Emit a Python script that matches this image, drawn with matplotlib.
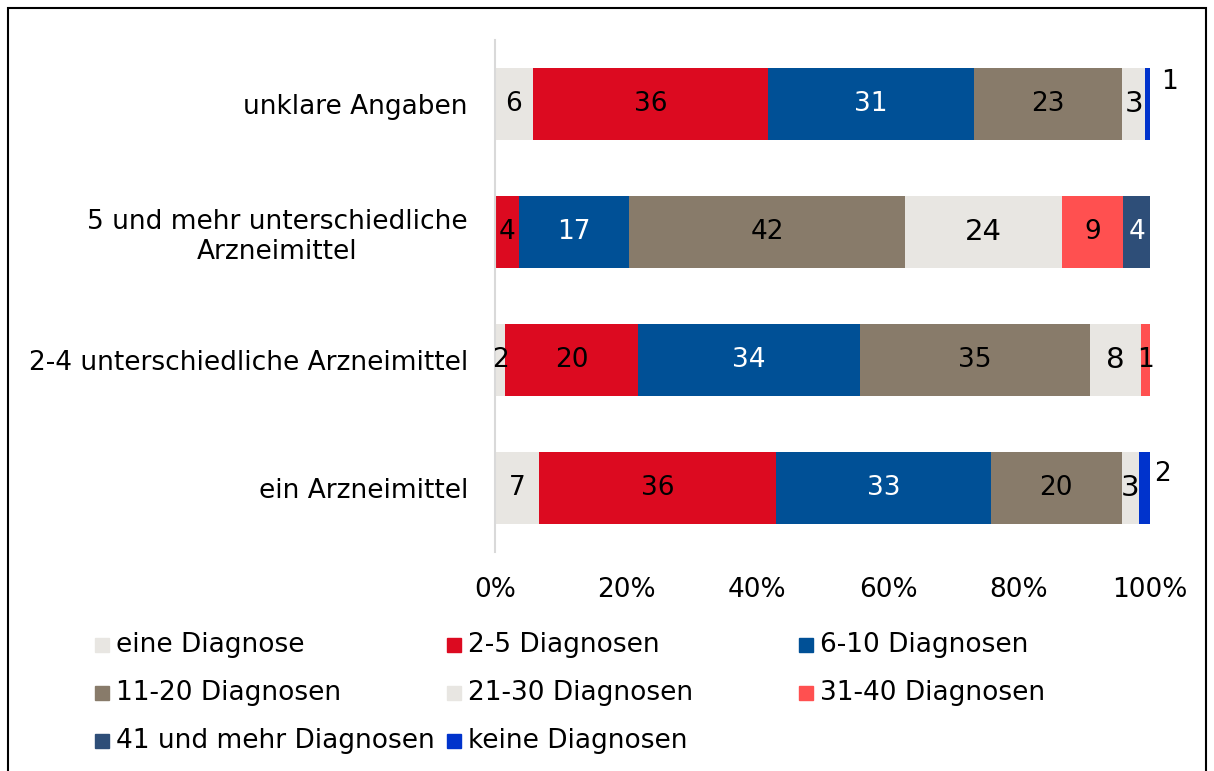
import numpy as np
import matplotlib.pyplot as plt
from matplotlib.patches import Rectangle

# categories top to bottom
categories = ['unklare Angaben', '5 und mehr unterschiedliche\nArzneimittel',
              '2-4 unterschiedliche Arzneimittel', 'ein Arzneimittel']
series = ['eine Diagnose', '2-5 Diagnosen', '6-10 Diagnosen', '11-20 Diagnosen',
          '21-30 Diagnosen', '31-40 Diagnosen', '41 und mehr Diagnosen', 'keine Diagnosen']
colors = ['#E8E6E2', '#DC0A20', '#005096', '#887B6A',
          '#E8E6E2', '#FF5050', '#2E4E78', '#0033CC']
label_colors = ['black', 'black', 'white', 'black', 'black', 'black', 'white', 'black']

# percent per category (one list per series, order of categories)
eine = [5.8, 0.0, 1.6, 6.7]
d2_5 = [35.9, 3.7, 20.2, 36.2]
d6_10 = [31.4, 16.8, 34.0, 32.8]
d11_20 = [22.7, 42.1, 35.0, 20.0]
d21_30 = [3.4, 24.0, 7.8, 2.6]
d31_40 = [0.0, 9.3, 1.4, 0.0]
d41 = [0.0, 4.1, 0.0, 0.0]
keine = [0.8, 0.0, 0.0, 1.7]
values = np.array([eine, d2_5, d6_10, d11_20, d21_30, d31_40, d41, keine])
values = values / values.sum(axis=0) * 100

xticks = [0, 20, 40, 60, 80, 100]
xticklabels = ['0%', '20%', '40%', '60%', '80%', '100%']

fig = plt.figure(figsize=(12.14, 7.71), dpi=100)
ax = fig.add_axes([495 / 1214, 1 - 552 / 771, 655 / 1214, 512 / 771])

y = np.arange(len(categories))
left = np.zeros(len(categories))
# label offsets (points) for labels placed outside the bar
outside = {(7, 0): (14, 16), (7, 3): (9, 10)}
for i, name in enumerate(series):
    ax.barh(y, values[i], left=left, height=0.565, color=colors[i], label=name)
    for j in range(len(categories)):
        v = values[i, j]
        if v <= 0:
            continue
        txt = f'{v:.0f}'
        size = 21 if i == 4 else 19
        if (i, j) in outside:
            ax.annotate(txt, (left[j] + v, y[j]), xytext=outside[(i, j)],
                        textcoords='offset points', ha='center', va='center',
                        fontsize=19, color='black')
        else:
            ax.text(left[j] + v / 2, y[j], txt, ha='center', va='center',
                    fontsize=size, color=label_colors[i])
    left = left + values[i]

ax.set_xlim(0, 100)
ax.set_ylim(len(categories) - 0.5, -0.5)
ax.set_yticks(y)
ax.set_yticklabels(categories, fontsize=19, multialignment='center')
ax.set_xticks(xticks)
ax.set_xticklabels(xticklabels, fontsize=19)
ax.tick_params(axis='both', length=0)
ax.tick_params(axis='y', pad=19.5)
ax.tick_params(axis='x', pad=18)
for s in ['top', 'right', 'bottom']:
    ax.spines[s].set_visible(False)
ax.spines['left'].set_color('#D9D9D9')
ax.spines['left'].set_linewidth(1.5)

# legend, filled row by row
col_x = [95, 447, 799]
row_y = [645, 693, 741]
for k, name in enumerate(series):
    r, c = divmod(k, 3)
    xm = col_x[c] / 1214
    ym = 1 - row_y[r] / 771
    fig.patches.append(Rectangle((xm, ym - 7 / 771), 14 / 1214, 14 / 771,
                                 transform=fig.transFigure, color=colors[k]))
    fig.text(xm + 21 / 1214, ym, name, fontsize=19, va='center', ha='left')

# frame around the figure
fig.patches.append(Rectangle((8 / 1214, -0.05), 1198 / 1214, 1.05 - 8 / 771,
                             transform=fig.transFigure, fill=False,
                             edgecolor='black', linewidth=1.5))

fig.savefig('out.png', dpi=100)
